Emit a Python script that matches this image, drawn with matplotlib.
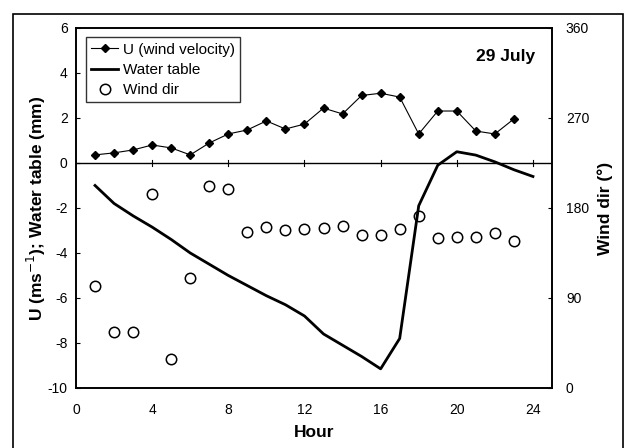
import matplotlib.pyplot as plt
from matplotlib.patches import Rectangle

plt.rcParams['font.family'] = ['Liberation Sans', 'DejaVu Sans']
plt.rcParams['axes.unicode_minus'] = False

# Data
hours_u = list(range(1, 24))
wind_u = [0.36, 0.45, 0.58, 0.8, 0.67, 0.36, 0.89, 1.29, 1.47, 1.87, 1.51, 1.73,
          2.44, 2.18, 3.0, 3.1, 2.93, 1.29, 2.31, 2.31, 1.42, 1.29, 1.96]

hours_wt = list(range(1, 25))
water_table = [-1.0, -1.8, -2.35, -2.85, -3.4, -4.0, -4.5, -5.0, -5.45, -5.9, -6.3, -6.8,
               -7.6, -8.1, -8.6, -9.15, -7.8, -1.9, -0.1, 0.5, 0.35, 0.05, -0.3, -0.6]

hours_dir = list(range(1, 24))
wind_dir = [102, 56, 56, 194, 29, 110, 202, 199, 156, 161, 158, 159, 160, 162,
            153, 153, 159, 172, 150, 151, 151, 155, 147]

x_ticks = [0, 4, 8, 12, 16, 20, 24]
left_ticks = [6, 4, 2, 0, -2, -4, -6, -8, -10]
right_ticks = [0, 90, 180, 270, 360]

fig = plt.figure(figsize=(6.25, 4.48), dpi=100)
ax = fig.add_axes([0.1216, 0.134, 0.7616, 0.8035])
ax2 = ax.twinx()

# zero line with tick marks (category axis crossing at 0)
ax.axhline(0, color='black', lw=1.0, zorder=1)
for xt in x_ticks[1:]:
    ax.plot([xt, xt], [-0.13, 0.13], color='black', lw=0.8, zorder=1)

ax.plot(hours_u, wind_u, '-D', color='black', lw=0.8, markersize=4.5,
        label='U (wind velocity)', zorder=3)
ax.plot(hours_wt, water_table, '-', color='black', lw=2.0, label='Water table', zorder=3)
ax2.plot(hours_dir, wind_dir, 'o', mfc='none', mec='black', mew=1.1, markersize=7.5,
         label='Wind dir')

ax.set_xlim(0, 25)
ax.set_ylim(-10, 6)
ax2.set_ylim(0, 360)
ax.set_xticks(x_ticks)
ax.set_yticks(left_ticks)
ax2.set_yticks(right_ticks)

ax.tick_params(axis='x', length=0, labelsize=10, pad=10.5)
ax.tick_params(axis='y', direction='in', length=3, labelsize=10, pad=6)
ax2.tick_params(axis='y', direction='in', length=3, labelsize=10, pad=10)

for a in (ax, ax2):
    for s in a.spines.values():
        s.set_linewidth(1.2)

ax.set_xlabel('Hour', fontsize=12.5, fontweight='bold', labelpad=6)
ax.set_ylabel('U (ms$^{-1}$); Water table (mm)', fontsize=12.5, fontweight='bold', labelpad=0)
ax2.set_ylabel('Wind dir (°)', fontsize=12.5, fontweight='bold', labelpad=6)

ax.text(0.964, 0.92, '29 July', transform=ax.transAxes, ha='right', va='center',
        fontsize=12.5, fontweight='bold')

h1, l1 = ax.get_legend_handles_labels()
h2, l2 = ax2.get_legend_handles_labels()
leg = ax.legend(h1 + h2, l1 + l2, loc='upper left', bbox_to_anchor=(0.004, 0.995),
                fontsize=11, frameon=True, fancybox=False, edgecolor='black',
                handlelength=1.8, handletextpad=0.3, borderpad=0.35, labelspacing=0.4)
leg.get_frame().set_linewidth(1.0)

fig.patches.append(Rectangle((13 / 625, -0.02), 610 / 625, 1.02 - 14 / 448,
                             transform=fig.transFigure, fill=False,
                             edgecolor='black', lw=1.2))

fig.savefig('out.png', dpi=100)
